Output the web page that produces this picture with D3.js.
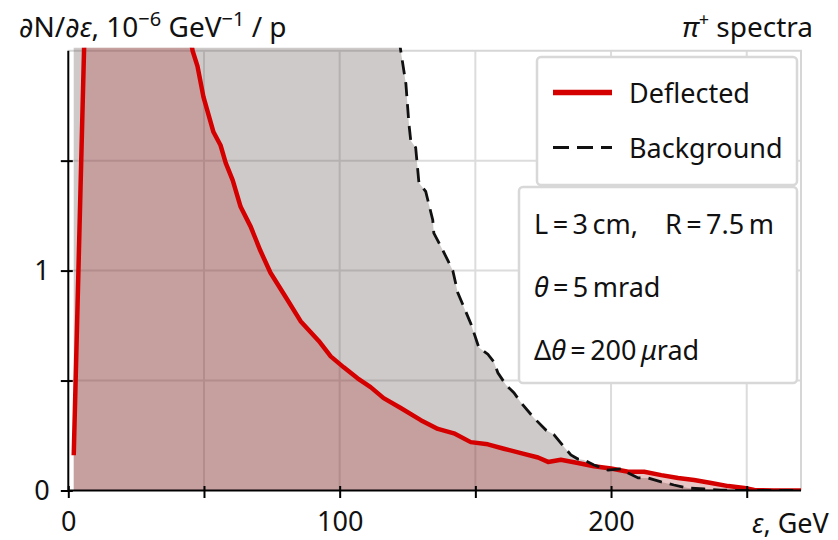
<!DOCTYPE html>
<html>
<head>
<meta charset="utf-8">
<script src="https://cdn.jsdelivr.net/npm/d3@7"></script>
<style>
  html, body { margin: 0; padding: 0; background: #fff; }
  svg { display: block; font-family: "Noto Sans", "DejaVu Sans", sans-serif; }
  text { fill: #111; }
</style>
</head>
<body>
<svg id="chart" width="838" height="540"></svg>
<script>
// Pion spectra: deflected beam vs. background, per GeV per proton (10^-6)
const deflectedE = [2, 6, 10, 16, 24, 32, 40, 45.8, 47.6, 49.8, 53.5, 56.1, 58.0, 60.6, 63.5, 67.2, 70.8, 74.5, 80.1, 85.6, 92.3, 96.7, 101.5, 106.6, 111.4, 116.2, 122.5, 129.9, 136.2, 142.1, 148.3, 154.6, 160.5, 166.8, 173.1, 176.8, 181.5, 187.8, 193.7, 200, 206.3, 212.2, 218.5, 224.7, 230.6, 236.9, 243.2, 249.1, 252.8, 260, 270];
const deflectedV = [0.16, 2.1, 3.0, 3.5, 3.4, 3.0, 2.4, 2.0, 1.93, 1.79, 1.63, 1.57, 1.49, 1.41, 1.29, 1.20, 1.09, 0.99, 0.88, 0.77, 0.68, 0.61, 0.56, 0.51, 0.47, 0.42, 0.375, 0.32, 0.28, 0.26, 0.22, 0.21, 0.19, 0.17, 0.15, 0.13, 0.14, 0.125, 0.11, 0.10, 0.085, 0.085, 0.07, 0.057, 0.048, 0.034, 0.02, 0.011, 0.002, 0, 0];

const backgroundE = [2, 20, 50, 80, 100, 112, 118, 122.5, 124.4, 125.5, 126.2, 128.0, 129.2, 131.7, 134.3, 134.7, 137.3, 141.7, 143.5, 148.3, 151.3, 154.6, 156.8, 158.3, 161.3, 164.2, 166.8, 171.6, 176.0, 179.0, 182.7, 185.2, 187.8, 190.0, 193.7, 198.9, 203.7, 206.3, 210.0, 213.7, 218.5, 223.2, 228.4, 234.3, 240.6, 250, 260, 270];
const backgroundV = [6, 8, 7, 5, 3.8, 2.9, 2.4, 2.0, 1.85, 1.67, 1.59, 1.56, 1.40, 1.36, 1.23, 1.17, 1.11, 1.0, 0.9, 0.76, 0.65, 0.62, 0.585, 0.535, 0.48, 0.445, 0.40, 0.33, 0.275, 0.253, 0.198, 0.162, 0.143, 0.139, 0.116, 0.093, 0.098, 0.08, 0.057, 0.057, 0.039, 0.025, 0.011, 0.007, 0.002, 0, 0, 0];

const xTicks = [0, 50, 100, 150, 200, 250];
const xTickLabels = ["0", "", "100", "", "200", ""];
const yTicks = [0, 0.5, 1, 1.5];
const yTickLabels = ["0", "", "1", ""];

const seriesNames = ["Deflected", "Background"];

const W = 838, H = 540;
const margin = { left: 68.3, right: 37, top: 50.7, bottom: 49.5 };
const iw = W - margin.left - margin.right;
const ih = H - margin.top - margin.bottom;

const svg = d3.select("#chart");
const x = d3.scaleLinear().domain([0, 270]).range([margin.left, margin.left + iw]);
const y = d3.scaleLinear().domain([0, 2]).range([margin.top + ih, margin.top]);

const deflected = deflectedE.map((e, i) => ({ e, v: deflectedV[i] }));
const background = backgroundE.map((e, i) => ({ e, v: backgroundV[i] }));

svg.append("defs").append("clipPath").attr("id", "plot-clip")
  .append("rect")
  .attr("x", margin.left).attr("y", margin.top - 3)
  .attr("width", iw).attr("height", ih + 3);

// grid
const grid = svg.append("g").attr("stroke", "#dcdcdc").attr("stroke-width", 2);
grid.selectAll("line.gx").data(xTicks.filter(t => t > 0)).join("line")
  .attr("x1", d => x(d)).attr("x2", d => x(d))
  .attr("y1", y(0)).attr("y2", y(2));
grid.selectAll("line.gy").data(yTicks.filter(t => t > 0)).join("line")
  .attr("x1", x(0)).attr("x2", x(270))
  .attr("y1", d => y(d)).attr("y2", d => y(d));

// top / right frame
svg.append("path")
  .attr("d", `M${x(0)},${y(2)}H${x(270)}V${y(0)}`)
  .attr("fill", "none").attr("stroke", "#d6d6d6").attr("stroke-width", 2);

const plot = svg.append("g").attr("clip-path", "url(#plot-clip)");

const area = d3.area().x(d => x(d.e)).y0(y(0)).y1(d => y(d.v));
const line = d3.line().x(d => x(d.e)).y(d => y(d.v));

plot.append("path").datum(background).attr("d", area)
  .attr("fill", "rgb(95,80,80)").attr("fill-opacity", 0.3);
plot.append("path").datum(deflected).attr("d", area)
  .attr("fill", "rgb(170,30,30)").attr("fill-opacity", 0.25);

plot.append("path").datum(deflected).attr("d", line)
  .attr("fill", "none").attr("stroke", "#d40000").attr("stroke-width", 4.5)
  .attr("stroke-linejoin", "round");
plot.append("path").datum(background).attr("d", line)
  .attr("fill", "none").attr("stroke", "#111").attr("stroke-width", 2.8)
  .attr("stroke-dasharray", "14,8");

// axes
const fontSize = 27;
const xAxis = d3.axisBottom(x).tickValues(xTicks)
  .tickFormat((d, i) => xTickLabels[i]).tickSize(7.5).tickPadding(14);
const gx = svg.append("g").attr("transform", `translate(0,${y(0)})`).call(xAxis);
gx.select(".domain").attr("stroke", "#000").attr("stroke-width", 2);
gx.selectAll(".tick line").attr("stroke", "#000").attr("stroke-width", 2).attr("y1", -4.5);
gx.selectAll(".tick text").attr("font-size", fontSize).attr("font-family", "Noto Sans").attr("fill", "#111");

const yAxis = d3.axisLeft(y).tickValues(yTicks)
  .tickFormat((d, i) => yTickLabels[i]).tickSize(7.5).tickPadding(11);
const gy = svg.append("g").attr("transform", `translate(${x(0)},0)`).call(yAxis);
gy.select(".domain").attr("stroke", "#000").attr("stroke-width", 2);
gy.selectAll(".tick line").attr("stroke", "#000").attr("stroke-width", 2).attr("x1", 4.5);
gy.selectAll(".tick text").attr("font-size", fontSize).attr("font-family", "Noto Sans").attr("fill", "#111");
gx.select(".domain").attr("d", `M${x(0)},0H${x(270)}`);
gy.select(".domain").attr("d", `M0,${y(0)}V${y(2)}`);

// titles
const yl = svg.append("text").attr("x", 19).attr("y", 37).attr("font-size", 28);
yl.append("tspan").text("∂N/∂");
yl.append("tspan").attr("font-style", "italic").text("ε");
yl.append("tspan").text(", 10");
yl.append("tspan").attr("font-size", 20).attr("dy", -11).text("−6");
yl.append("tspan").attr("dy", 11).text(" GeV");
yl.append("tspan").attr("font-size", 20).attr("dy", -11).text("−1");
yl.append("tspan").attr("dy", 11).text(" / p");

const tl = svg.append("text").attr("x", 813).attr("y", 37).attr("font-size", 28).attr("text-anchor", "end");
tl.append("tspan").attr("font-style", "italic").text("π");
tl.append("tspan").attr("font-size", 18).attr("dy", -11).text("+");
tl.append("tspan").attr("dy", 11).text(" spectra");

const xl = svg.append("text").attr("x", 752).attr("y", 533).attr("font-size", fontSize);
xl.append("tspan").attr("font-style", "italic").text("ε");
xl.append("tspan").text(", GeV");

// legend
const lg = svg.append("g");
lg.append("rect").attr("x", 537).attr("y", 57).attr("width", 260).attr("height", 128)
  .attr("rx", 4).attr("fill", "#fff").attr("stroke", "#d8d8d8").attr("stroke-width", 2.5);
const legendY = [92.5, 147.5];
lg.append("line").attr("x1", 553).attr("x2", 612).attr("y1", legendY[0]).attr("y2", legendY[0])
  .attr("stroke", "#d40000").attr("stroke-width", 5.5);
lg.append("line").attr("x1", 553).attr("x2", 612).attr("y1", legendY[1]).attr("y2", legendY[1])
  .attr("stroke", "#111").attr("stroke-width", 3).attr("stroke-dasharray", "16,8");
lg.selectAll("text.lt").data(seriesNames).join("text")
  .attr("x", 629).attr("y", (d, i) => legendY[i] + 10.5)
  .attr("font-size", fontSize).text(d => d);

// parameters box
const pb = svg.append("g");
pb.append("rect").attr("x", 519).attr("y", 187).attr("width", 278).attr("height", 196)
  .attr("rx", 4).attr("fill", "#fff").attr("stroke", "#d8d8d8").attr("stroke-width", 2.5);
const t1 = pb.append("text").attr("x", 534).attr("y", 234).attr("font-size", fontSize);
t1.text("L\u2009=\u20093\u2009cm,\u2003R\u2009=\u20097.5\u2009m");
const t2 = pb.append("text").attr("x", 534).attr("y", 297).attr("font-size", fontSize);
t2.append("tspan").attr("font-style", "italic").text("θ");
t2.append("tspan").text("\u2009=\u20095\u2009mrad");
const t3 = pb.append("text").attr("x", 534).attr("y", 360).attr("font-size", fontSize);
t3.append("tspan").text("Δ");
t3.append("tspan").attr("font-style", "italic").text("θ");
t3.append("tspan").text("\u2009=\u2009200\u2009");
t3.append("tspan").attr("font-style", "italic").text("μ");
t3.append("tspan").text("rad");
</script>
</body>
</html>
